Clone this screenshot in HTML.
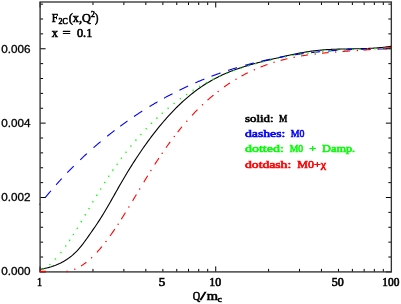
<!DOCTYPE html>
<html><head><meta charset="utf-8"><style>
html,body{margin:0;padding:0;background:#fff;}
body{width:401px;height:304px;overflow:hidden;position:relative;font-family:"Liberation Sans",sans-serif;}
svg{position:absolute;left:0;top:0;display:block;will-change:transform;}
</style></head><body>
<svg width="401" height="304" viewBox="0 0 401 304">
<path d="M39.60,269.53 L40.78,269.29 L41.95,269.04 L43.13,268.79 L44.31,268.52 L45.48,268.25 L46.66,267.96 L47.84,267.66 L49.02,267.35 L50.19,267.01 L51.37,266.66 L52.55,266.28 L53.72,265.89 L54.90,265.47 L56.08,265.02 L57.25,264.54 L58.43,264.04 L59.61,263.51 L60.78,262.94 L61.96,262.33 L63.14,261.69 L64.32,261.02 L65.49,260.30 L66.67,259.54 L67.85,258.74 L69.02,257.89 L70.20,257.00 L71.38,256.06 L72.55,255.07 L73.73,254.02 L74.91,252.92 L76.08,251.77 L77.26,250.56 L78.44,249.29 L79.62,247.97 L80.79,246.58 L81.97,245.12 L83.15,243.61 L84.32,242.04 L85.50,240.42 L86.68,238.78 L87.85,237.11 L89.03,235.43 L90.21,233.74 L91.38,232.05 L92.56,230.36 L93.74,228.66 L94.92,226.94 L96.09,225.21 L97.27,223.45 L98.45,221.67 L99.62,219.86 L100.80,218.02 L101.98,216.14 L103.15,214.23 L104.33,212.28 L105.51,210.31 L106.68,208.30 L107.86,206.28 L109.04,204.24 L110.22,202.18 L111.39,200.11 L112.57,198.03 L113.75,195.95 L114.92,193.86 L116.10,191.77 L117.28,189.69 L118.45,187.61 L119.63,185.55 L120.81,183.50 L121.98,181.46 L123.16,179.45 L124.34,177.45 L125.52,175.48 L126.69,173.52 L127.87,171.58 L129.05,169.66 L130.22,167.75 L131.40,165.87 L132.58,164.00 L133.75,162.16 L134.93,160.33 L136.11,158.52 L137.28,156.73 L138.46,154.96 L139.64,153.20 L140.82,151.47 L141.99,149.75 L143.17,148.05 L144.35,146.37 L145.52,144.71 L146.70,143.07 L147.88,141.44 L149.05,139.83 L150.23,138.25 L151.41,136.68 L152.58,135.13 L153.76,133.59 L154.94,132.08 L156.12,130.58 L157.29,129.10 L158.47,127.64 L159.65,126.20 L160.82,124.78 L162.00,123.37 L163.18,121.99 L164.35,120.62 L165.53,119.27 L166.71,117.93 L167.88,116.62 L169.06,115.32 L170.24,114.05 L171.42,112.79 L172.59,111.55 L173.77,110.32 L174.95,109.12 L176.12,107.93 L177.30,106.76 L178.48,105.61 L179.65,104.48 L180.83,103.36 L182.01,102.26 L183.18,101.18 L184.36,100.12 L185.54,99.08 L186.72,98.05 L187.89,97.05 L189.07,96.06 L190.25,95.09 L191.42,94.13 L192.60,93.20 L193.78,92.28 L194.95,91.38 L196.13,90.50 L197.31,89.63 L198.48,88.78 L199.66,87.95 L200.84,87.14 L202.02,86.35 L203.19,85.57 L204.37,84.80 L205.55,84.06 L206.72,83.32 L207.90,82.61 L209.08,81.91 L210.25,81.22 L211.43,80.55 L212.61,79.89 L213.78,79.25 L214.96,78.62 L216.14,78.00 L217.32,77.40 L218.49,76.81 L219.67,76.24 L220.85,75.67 L222.02,75.12 L223.20,74.58 L224.38,74.05 L225.55,73.53 L226.73,73.03 L227.91,72.53 L229.08,72.05 L230.26,71.57 L231.44,71.11 L232.62,70.65 L233.79,70.21 L234.97,69.77 L236.15,69.35 L237.32,68.93 L238.50,68.52 L239.68,68.12 L240.85,67.72 L242.03,67.34 L243.21,66.96 L244.38,66.59 L245.56,66.22 L246.74,65.87 L247.92,65.51 L249.09,65.17 L250.27,64.83 L251.45,64.49 L252.62,64.16 L253.80,63.84 L254.98,63.52 L256.15,63.20 L257.33,62.89 L258.51,62.58 L259.68,62.28 L260.86,61.98 L262.04,61.68 L263.22,61.39 L264.39,61.09 L265.57,60.80 L266.75,60.52 L267.92,60.23 L269.10,59.94 L270.28,59.66 L271.45,59.38 L272.63,59.09 L273.81,58.81 L274.98,58.53 L276.16,58.25 L277.34,57.97 L278.52,57.69 L279.69,57.42 L280.87,57.14 L282.05,56.87 L283.22,56.59 L284.40,56.32 L285.58,56.06 L286.75,55.79 L287.93,55.53 L289.11,55.27 L290.28,55.02 L291.46,54.76 L292.64,54.51 L293.82,54.27 L294.99,54.03 L296.17,53.79 L297.35,53.56 L298.52,53.33 L299.70,53.10 L300.88,52.88 L302.05,52.67 L303.23,52.46 L304.41,52.26 L305.58,52.06 L306.76,51.87 L307.94,51.68 L309.12,51.50 L310.29,51.32 L311.47,51.16 L312.65,51.00 L313.82,50.84 L315.00,50.70 L316.18,50.56 L317.35,50.43 L318.53,50.30 L319.71,50.19 L320.88,50.08 L322.06,49.97 L323.24,49.88 L324.42,49.79 L325.59,49.71 L326.77,49.63 L327.95,49.56 L329.12,49.49 L330.30,49.43 L331.48,49.37 L332.65,49.32 L333.83,49.27 L335.01,49.23 L336.18,49.19 L337.36,49.15 L338.54,49.11 L339.72,49.08 L340.89,49.05 L342.07,49.03 L343.25,49.00 L344.42,48.98 L345.60,48.96 L346.78,48.93 L347.95,48.91 L349.13,48.89 L350.31,48.87 L351.48,48.86 L352.66,48.84 L353.84,48.82 L355.02,48.79 L356.19,48.77 L357.37,48.75 L358.55,48.72 L359.72,48.70 L360.90,48.67 L362.08,48.63 L363.25,48.60 L364.43,48.56 L365.61,48.52 L366.78,48.48 L367.96,48.43 L369.14,48.38 L370.32,48.32 L371.49,48.26 L372.67,48.19 L373.85,48.12 L375.02,48.04 L376.20,47.96 L377.38,47.87 L378.55,47.77 L379.73,47.67 L380.91,47.56 L382.08,47.44 L383.26,47.32 L384.44,47.19 L385.62,47.05 L386.79,46.90 L387.97,46.74 L389.15,46.57 L390.32,46.40 L391.50,46.21" stroke="#000" stroke-width="1.1" fill="none"/>
<path d="M39.50,204.68 L40.20,203.79 M45.25,197.53 L45.76,196.91 L46.28,196.28 L46.79,195.66 L47.30,195.05 L47.82,194.43 L48.33,193.82 L48.85,193.21 L49.36,192.60 L49.87,191.99 L50.39,191.39 L50.90,190.79 M56.10,184.82 L56.61,184.24 L57.13,183.66 L57.64,183.09 L58.15,182.52 L58.67,181.95 L59.18,181.38 L59.70,180.81 L60.21,180.25 L60.72,179.69 L61.24,179.13 L61.75,178.57 M67.25,172.73 L67.75,172.21 L68.25,171.69 L68.75,171.17 L69.25,170.66 L69.75,170.14 L70.25,169.63 L70.75,169.12 L71.25,168.62 L71.75,168.11 L72.25,167.61 L72.75,167.10 L73.25,166.60 L73.75,166.10 M80.25,159.77 L80.76,159.28 L81.27,158.80 L81.78,158.32 L82.30,157.83 L82.81,157.35 L83.32,156.88 L83.83,156.40 L84.34,155.93 L84.85,155.45 L85.37,154.98 L85.88,154.51 L86.39,154.04 L86.90,153.58 M93.50,147.69 L94.01,147.25 L94.51,146.81 L95.02,146.37 L95.53,145.94 L96.04,145.50 L96.54,145.07 L97.05,144.63 L97.56,144.20 L98.06,143.77 L98.57,143.34 L99.08,142.92 L99.59,142.49 L100.09,142.07 L100.60,141.64 M107.25,136.22 L107.78,135.80 L108.30,135.38 L108.83,134.96 L109.35,134.55 L109.88,134.14 L110.40,133.72 L110.92,133.31 L111.45,132.90 L111.97,132.49 L112.50,132.09 L113.02,131.68 L113.55,131.28 L114.07,130.87 L114.60,130.47 M120.25,126.23 L120.77,125.85 L121.29,125.47 L121.80,125.09 L122.32,124.71 L122.84,124.33 L123.36,123.96 L123.88,123.59 L124.39,123.21 L124.91,122.84 L125.43,122.47 L125.95,122.10 L126.46,121.73 L126.98,121.37 L127.50,121.00 M134.00,116.52 L134.52,116.17 L135.04,115.82 L135.56,115.47 L136.07,115.13 L136.59,114.78 L137.11,114.44 L137.63,114.10 L138.15,113.75 L138.67,113.41 L139.19,113.07 L139.71,112.74 L140.23,112.40 L140.74,112.06 L141.26,111.73 L141.78,111.40 L142.30,111.06 M149.50,106.57 L150.00,106.27 L150.50,105.97 L151.00,105.67 L151.50,105.37 L152.00,105.07 L152.50,104.77 L153.00,104.47 L153.50,104.17 L154.00,103.88 L154.50,103.58 L155.00,103.29 L155.50,103.00 L156.00,102.71 L156.50,102.42 L157.00,102.13 L157.50,101.84 M164.00,98.18 L164.50,97.91 L165.00,97.63 L165.50,97.36 L166.00,97.09 L166.50,96.82 L167.00,96.55 L167.50,96.28 L168.00,96.02 L168.50,95.75 L169.00,95.48 L169.50,95.22 L170.00,94.96 L170.50,94.69 L171.00,94.43 L171.50,94.17 L172.00,93.91 L172.50,93.65 M179.40,90.18 L179.91,89.93 L180.42,89.68 L180.94,89.43 L181.45,89.18 L181.96,88.94 L182.47,88.69 L182.98,88.45 L183.49,88.20 L184.01,87.96 L184.52,87.72 L185.03,87.48 L185.54,87.24 L186.05,87.00 L186.56,86.76 L187.08,86.52 L187.59,86.28 L188.10,86.05 M195.25,82.86 L195.76,82.64 L196.27,82.42 L196.78,82.20 L197.28,81.98 L197.79,81.77 L198.30,81.55 L198.81,81.34 L199.32,81.12 L199.82,80.91 L200.33,80.70 L200.84,80.49 L201.35,80.28 L201.86,80.07 L202.37,79.86 L202.88,79.65 L203.38,79.44 L203.89,79.24 L204.40,79.03 M211.50,76.26 L212.01,76.07 L212.51,75.88 L213.02,75.69 L213.52,75.50 L214.03,75.31 L214.53,75.12 L215.04,74.94 L215.54,74.75 L216.05,74.57 L216.56,74.38 L217.06,74.20 L217.57,74.02 L218.07,73.84 L218.58,73.66 L219.08,73.48 L219.59,73.30 L220.09,73.12 L220.60,72.94 M228.10,70.40 L228.62,70.24 L229.14,70.07 L229.65,69.90 L230.17,69.73 L230.69,69.57 L231.21,69.40 L231.72,69.24 L232.24,69.08 L232.76,68.92 L233.28,68.75 L233.79,68.59 L234.31,68.43 L234.83,68.27 L235.35,68.12 L235.86,67.96 L236.38,67.80 L236.90,67.65 M245.25,65.24 L245.75,65.10 L246.25,64.97 L246.75,64.83 L247.25,64.69 L247.75,64.56 L248.25,64.43 L248.75,64.29 L249.25,64.16 L249.75,64.03 L250.25,63.90 L250.75,63.77 L251.25,63.64 L251.75,63.51 L252.25,63.38 L252.75,63.25 L253.25,63.12 L253.75,63.00 M261.25,61.18 L261.77,61.06 L262.29,60.94 L262.81,60.82 L263.33,60.70 L263.85,60.59 L264.37,60.47 L264.89,60.35 L265.41,60.24 L265.93,60.12 L266.44,60.01 L266.96,59.90 L267.48,59.78 L268.00,59.67 L268.52,59.56 L269.04,59.45 L269.56,59.34 L270.08,59.23 L270.60,59.12 M278.10,57.64 L278.62,57.54 L279.15,57.44 L279.67,57.34 L280.19,57.25 L280.72,57.15 L281.24,57.06 L281.76,56.96 L282.29,56.87 L282.81,56.77 L283.34,56.68 L283.86,56.59 L284.38,56.50 L284.91,56.41 L285.43,56.32 L285.95,56.23 L286.48,56.14 L287.00,56.05 M294.60,54.84 L295.10,54.77 L295.60,54.69 L296.10,54.62 L296.60,54.55 L297.10,54.47 L297.60,54.40 L298.10,54.33 L298.60,54.26 L299.10,54.19 L299.60,54.12 L300.10,54.05 L300.60,53.98 L301.10,53.91 L301.60,53.84 L302.10,53.78 L302.60,53.71 L303.10,53.64 L303.60,53.58 M311.20,52.65 L311.70,52.59 L312.20,52.53 L312.70,52.48 L313.20,52.42 L313.70,52.37 L314.20,52.31 L314.70,52.26 L315.20,52.20 L315.70,52.15 L316.20,52.10 L316.70,52.05 L317.20,51.99 L317.70,51.94 L318.20,51.89 L318.70,51.84 L319.20,51.79 L319.70,51.74 L320.20,51.70 M327.80,51.02 L328.30,50.97 L328.80,50.93 L329.30,50.89 L329.80,50.85 L330.30,50.81 L330.80,50.78 L331.30,50.74 L331.80,50.70 L332.30,50.66 L332.80,50.63 L333.30,50.59 L333.80,50.55 L334.30,50.52 L334.80,50.48 L335.30,50.45 L335.80,50.41 L336.30,50.38 L336.80,50.35 M344.40,49.89 L344.90,49.87 L345.40,49.84 L345.90,49.81 L346.40,49.79 L346.90,49.76 L347.40,49.74 L347.90,49.71 L348.40,49.69 L348.90,49.67 L349.40,49.64 L349.90,49.62 L350.40,49.60 L350.90,49.58 L351.40,49.56 L351.90,49.54 L352.40,49.52 L352.90,49.50 L353.40,49.48 M361.00,49.22 L361.50,49.21 L362.00,49.19 L362.50,49.18 L363.00,49.17 L363.50,49.16 L364.00,49.14 L364.50,49.13 L365.00,49.12 L365.50,49.11 L366.00,49.10 L366.50,49.09 L367.00,49.08 L367.50,49.07 L368.00,49.06 L368.50,49.05 L369.00,49.04 L369.50,49.03 L370.00,49.03 M377.60,48.95 L378.10,48.94 L378.60,48.94 L379.10,48.94 L379.60,48.94 L380.10,48.94 L380.60,48.93 L381.10,48.93 L381.60,48.93 L382.10,48.93 L382.60,48.93 L383.10,48.93 L383.60,48.93 L384.10,48.93 L384.60,48.94 L385.10,48.94 L385.60,48.94 L386.10,48.94 L386.60,48.94" stroke="#00f" stroke-width="1.1" fill="none"/>
<circle cx="43.60" cy="269.11" r="0.8" fill="#0f0"/><circle cx="49.90" cy="264.53" r="0.8" fill="#0f0"/><circle cx="55.50" cy="259.01" r="0.8" fill="#0f0"/><circle cx="60.90" cy="252.56" r="0.8" fill="#0f0"/><circle cx="65.75" cy="246.00" r="0.8" fill="#0f0"/><circle cx="69.60" cy="240.36" r="0.8" fill="#0f0"/><circle cx="73.40" cy="234.48" r="0.8" fill="#0f0"/><circle cx="77.25" cy="228.27" r="0.8" fill="#0f0"/><circle cx="81.25" cy="221.63" r="0.8" fill="#0f0"/><circle cx="85.25" cy="214.86" r="0.8" fill="#0f0"/><circle cx="89.00" cy="208.46" r="0.8" fill="#0f0"/><circle cx="92.90" cy="201.83" r="0.8" fill="#0f0"/><circle cx="96.75" cy="195.35" r="0.8" fill="#0f0"/><circle cx="100.60" cy="189.03" r="0.8" fill="#0f0"/><circle cx="104.75" cy="182.43" r="0.8" fill="#0f0"/><circle cx="108.75" cy="176.29" r="0.8" fill="#0f0"/><circle cx="112.90" cy="170.16" r="0.8" fill="#0f0"/><circle cx="117.10" cy="164.18" r="0.8" fill="#0f0"/><circle cx="121.40" cy="158.30" r="0.8" fill="#0f0"/><circle cx="126.00" cy="152.26" r="0.8" fill="#0f0"/><circle cx="130.90" cy="146.12" r="0.8" fill="#0f0"/><circle cx="135.90" cy="140.15" r="0.8" fill="#0f0"/><circle cx="140.90" cy="134.47" r="0.8" fill="#0f0"/><circle cx="146.25" cy="128.71" r="0.8" fill="#0f0"/><circle cx="151.50" cy="123.35" r="0.8" fill="#0f0"/><circle cx="156.90" cy="118.14" r="0.8" fill="#0f0"/><circle cx="162.25" cy="113.27" r="0.8" fill="#0f0"/><circle cx="168.10" cy="108.26" r="0.8" fill="#0f0"/><circle cx="174.10" cy="103.45" r="0.8" fill="#0f0"/><circle cx="180.40" cy="98.75" r="0.8" fill="#0f0"/><circle cx="186.60" cy="94.45" r="0.8" fill="#0f0"/><circle cx="193.10" cy="90.27" r="0.8" fill="#0f0"/><circle cx="199.70" cy="86.36" r="0.8" fill="#0f0"/><circle cx="206.50" cy="82.65" r="0.8" fill="#0f0"/><circle cx="213.10" cy="79.34" r="0.8" fill="#0f0"/><circle cx="220.00" cy="76.18" r="0.8" fill="#0f0"/><circle cx="227.10" cy="73.21" r="0.8" fill="#0f0"/><circle cx="234.00" cy="70.58" r="0.8" fill="#0f0"/><circle cx="240.90" cy="68.19" r="0.8" fill="#0f0"/><circle cx="248.35" cy="65.83" r="0.8" fill="#0f0"/><circle cx="255.80" cy="63.69" r="0.8" fill="#0f0"/><circle cx="263.25" cy="61.73" r="0.8" fill="#0f0"/><circle cx="270.70" cy="59.94" r="0.8" fill="#0f0"/><circle cx="278.15" cy="58.31" r="0.8" fill="#0f0"/><circle cx="285.60" cy="56.84" r="0.8" fill="#0f0"/><circle cx="293.05" cy="55.52" r="0.8" fill="#0f0"/><circle cx="300.50" cy="54.34" r="0.8" fill="#0f0"/><circle cx="307.95" cy="53.29" r="0.8" fill="#0f0"/><circle cx="315.40" cy="52.37" r="0.8" fill="#0f0"/><circle cx="322.85" cy="51.57" r="0.8" fill="#0f0"/><circle cx="330.30" cy="50.89" r="0.8" fill="#0f0"/><circle cx="337.75" cy="50.32" r="0.8" fill="#0f0"/><circle cx="345.20" cy="49.85" r="0.8" fill="#0f0"/><circle cx="352.65" cy="49.47" r="0.8" fill="#0f0"/><circle cx="360.10" cy="49.19" r="0.8" fill="#0f0"/><circle cx="367.55" cy="48.98" r="0.8" fill="#0f0"/><circle cx="375.00" cy="48.85" r="0.8" fill="#0f0"/><circle cx="382.45" cy="48.80" r="0.8" fill="#0f0"/><circle cx="389.90" cy="48.80" r="0.8" fill="#0f0"/>
<path d="M80.90,266.06 L81.44,265.73 L81.98,265.38 L82.52,265.03 L83.06,264.66 L83.60,264.29 L84.14,263.91 L84.68,263.52 L85.22,263.12 L85.76,262.71 L86.30,262.29 M96.90,252.36 L97.41,251.80 L97.92,251.24 L98.43,250.66 L98.94,250.09 L99.45,249.50 L99.96,248.91 L100.47,248.31 L100.98,247.71 L101.49,247.10 L102.00,246.48 M110.00,236.01 L110.54,235.25 L111.09,234.48 L111.63,233.71 L112.18,232.93 L112.72,232.15 L113.27,231.36 L113.81,230.57 L114.36,229.77 L114.90,228.96 M121.30,219.19 L121.81,218.38 L122.33,217.57 L122.84,216.76 L123.35,215.94 L123.86,215.13 L124.38,214.31 L124.89,213.48 L125.40,212.66 M132.60,200.85 L133.14,199.94 L133.69,199.04 L134.23,198.14 L134.77,197.23 L135.31,196.33 L135.86,195.42 L136.40,194.51 M143.80,182.17 L144.36,181.25 L144.91,180.33 L145.47,179.41 L146.03,178.49 L146.59,177.57 L147.14,176.66 L147.70,175.75 M154.70,164.54 L155.22,163.72 L155.75,162.91 L156.28,162.10 L156.80,161.29 L157.32,160.48 L157.85,159.68 L158.38,158.89 L158.90,158.09 M166.00,147.72 L166.53,146.97 L167.05,146.24 L167.57,145.50 L168.10,144.77 L168.62,144.05 L169.15,143.32 L169.67,142.60 L170.20,141.89 M177.60,132.19 L178.15,131.49 L178.70,130.81 L179.25,130.12 L179.80,129.44 L180.35,128.77 L180.90,128.09 L181.45,127.43 L182.00,126.76 M192.00,115.39 L192.50,114.85 L193.00,114.32 L193.50,113.79 L194.00,113.26 L194.50,112.74 L195.00,112.22 L195.50,111.70 L196.00,111.19 L196.50,110.68 L197.00,110.17 L197.50,109.67 M207.50,100.20 L208.00,99.76 L208.50,99.32 L209.00,98.88 L209.50,98.44 L210.00,98.01 L210.50,97.58 L211.00,97.16 L211.50,96.73 L212.00,96.31 L212.50,95.90 L213.00,95.48 L213.50,95.07 M224.00,87.02 L224.50,86.66 L225.00,86.31 L225.50,85.96 L226.00,85.61 L226.50,85.27 L227.00,84.93 L227.50,84.59 L228.00,84.25 L228.50,83.91 L229.00,83.58 L229.50,83.25 L230.00,82.92 M241.50,76.02 L242.03,75.73 L242.55,75.45 L243.07,75.17 L243.60,74.89 L244.12,74.61 L244.65,74.33 L245.18,74.06 L245.70,73.79 L246.23,73.52 L246.75,73.26 L247.28,72.99 L247.80,72.73 M260.60,67.03 L261.13,66.82 L261.66,66.62 L262.19,66.41 L262.72,66.21 L263.25,66.00 L263.78,65.80 L264.32,65.61 L264.85,65.41 L265.38,65.22 L265.91,65.02 L266.44,64.83 L266.97,64.65 L267.50,64.46 M280.60,60.43 L281.13,60.28 L281.66,60.14 L282.19,60.00 L282.72,59.87 L283.25,59.73 L283.78,59.60 L284.32,59.46 L284.85,59.33 L285.38,59.20 L285.91,59.08 L286.44,58.95 L286.97,58.82 L287.50,58.70 M301.00,56.00 L301.50,55.92 L302.00,55.83 L302.50,55.75 L303.00,55.67 L303.50,55.59 L304.00,55.51 L304.50,55.43 L305.00,55.35 L305.50,55.27 L306.00,55.20 L306.50,55.12 L307.00,55.05 L307.50,54.98 L308.00,54.90 M322.00,53.19 L322.51,53.14 L323.02,53.09 L323.52,53.04 L324.03,52.99 L324.54,52.94 L325.05,52.89 L325.55,52.84 L326.06,52.80 L326.57,52.75 L327.08,52.70 L327.58,52.66 L328.09,52.61 L328.60,52.57 M342.50,51.48 L343.00,51.45 L343.50,51.41 L344.00,51.38 L344.50,51.34 L345.00,51.31 L345.50,51.27 L346.00,51.24 L346.50,51.21 L347.00,51.17 L347.50,51.14 L348.00,51.11 L348.50,51.07 L349.00,51.04 L349.50,51.01 L350.00,50.97 M363.40,50.08 L363.90,50.04 L364.40,50.00 L364.90,49.97 L365.40,49.93 L365.90,49.90 L366.40,49.86 L366.90,49.82 L367.40,49.79 L367.90,49.75 L368.40,49.71 L368.90,49.67 L369.40,49.64 L369.90,49.60 L370.40,49.56 L370.90,49.52 M383.00,48.44 L383.50,48.39 L384.00,48.34 L384.50,48.29 L385.00,48.23 L385.50,48.18 L386.00,48.13 L386.50,48.07 L387.00,48.02 L387.50,47.96 L388.00,47.90 L388.50,47.84 L389.00,47.79 L389.50,47.73 L390.00,47.67 L390.50,47.61 L391.00,47.55" stroke="#f00" stroke-width="1.1" fill="none"/>
<circle cx="74.80" cy="269.17" r="0.75" fill="#f00"/><circle cx="91.60" cy="257.73" r="0.75" fill="#f00"/><circle cx="106.00" cy="241.42" r="0.75" fill="#f00"/><circle cx="118.10" cy="224.15" r="0.75" fill="#f00"/><circle cx="128.90" cy="206.96" r="0.75" fill="#f00"/><circle cx="139.70" cy="189.00" r="0.75" fill="#f00"/><circle cx="150.90" cy="170.56" r="0.75" fill="#f00"/><circle cx="162.20" cy="153.19" r="0.75" fill="#f00"/><circle cx="174.30" cy="136.42" r="0.75" fill="#f00"/><circle cx="186.80" cy="121.14" r="0.75" fill="#f00"/><circle cx="202.50" cy="104.79" r="0.75" fill="#f00"/><circle cx="218.10" cy="91.40" r="0.75" fill="#f00"/><circle cx="236.00" cy="79.17" r="0.75" fill="#f00"/><circle cx="254.40" cy="69.64" r="0.75" fill="#f00"/><circle cx="274.00" cy="62.33" r="0.75" fill="#f00"/><circle cx="294.20" cy="57.26" r="0.75" fill="#f00"/><circle cx="315.20" cy="53.95" r="0.75" fill="#f00"/><circle cx="335.70" cy="51.98" r="0.75" fill="#f00"/><circle cx="357.40" cy="50.48" r="0.75" fill="#f00"/><circle cx="378.40" cy="48.88" r="0.75" fill="#f00"/>
<path d="M40.10,271.9 v-5.5 M40.10,2.0 v5.5 M92.97,271.9 v-3 M92.97,2.0 v3 M123.89,271.9 v-3 M123.89,2.0 v3 M145.84,271.9 v-3 M145.84,2.0 v3 M162.86,271.9 v-3 M162.86,2.0 v3 M176.76,271.9 v-3 M176.76,2.0 v3 M188.52,271.9 v-3 M188.52,2.0 v3 M198.71,271.9 v-3 M198.71,2.0 v3 M207.69,271.9 v-3 M207.69,2.0 v3 M215.72,271.9 v-5.5 M215.72,2.0 v5.5 M268.59,271.9 v-3 M268.59,2.0 v3 M299.52,271.9 v-3 M299.52,2.0 v3 M321.46,271.9 v-3 M321.46,2.0 v3 M338.48,271.9 v-3 M338.48,2.0 v3 M352.39,271.9 v-3 M352.39,2.0 v3 M364.15,271.9 v-3 M364.15,2.0 v3 M374.33,271.9 v-3 M374.33,2.0 v3 M383.31,271.9 v-3 M383.31,2.0 v3 M40.1,271.90 h5.5 M391.35,271.90 h-5.5 M40.1,257.02 h3 M391.35,257.02 h-3 M40.1,242.15 h3 M391.35,242.15 h-3 M40.1,227.27 h3 M391.35,227.27 h-3 M40.1,212.39 h3 M391.35,212.39 h-3 M40.1,197.52 h5.5 M391.35,197.52 h-5.5 M40.1,182.64 h3 M391.35,182.64 h-3 M40.1,167.76 h3 M391.35,167.76 h-3 M40.1,152.89 h3 M391.35,152.89 h-3 M40.1,138.01 h3 M391.35,138.01 h-3 M40.1,123.13 h5.5 M391.35,123.13 h-5.5 M40.1,108.26 h3 M391.35,108.26 h-3 M40.1,93.38 h3 M391.35,93.38 h-3 M40.1,78.50 h3 M391.35,78.50 h-3 M40.1,63.63 h3 M391.35,63.63 h-3 M40.1,48.75 h5.5 M391.35,48.75 h-5.5 M40.1,33.87 h3 M391.35,33.87 h-3 M40.1,19.00 h3 M391.35,19.00 h-3 M40.1,4.12 h3 M391.35,4.12 h-3" stroke="#000" stroke-width="1" fill="none"/>
<rect x="40.1" y="2.0" width="351.25" height="269.9" fill="none" stroke="#333" stroke-width="1.35"/>
<path d="M39.4,271.6 H46.1 M66.5,271.6 h1.3" stroke="#f00" stroke-width="1.5" fill="none"/>
<g opacity="0.999"><text x="51.7" y="21.7" font-family='"Liberation Serif",serif' font-size="11.5" font-weight="normal" fill="#000" stroke="#000" stroke-width="0.62" textLength="6.20" lengthAdjust="spacingAndGlyphs">F</text>
<text x="58.6" y="24.4" font-family='"Liberation Serif",serif' font-size="7.8" font-weight="normal" fill="#000" stroke="#000" stroke-width="0.62" textLength="9.20" lengthAdjust="spacingAndGlyphs">2C</text>
<text x="68.7" y="21.7" font-family='"Liberation Serif",serif' font-size="11.5" font-weight="normal" fill="#000" stroke="#000" stroke-width="0.62" textLength="22.10" lengthAdjust="spacingAndGlyphs">(x,Q</text>
<text x="90.9" y="16.9" font-family='"Liberation Serif",serif' font-size="7.2" font-weight="normal" fill="#000" stroke="#000" stroke-width="0.62" textLength="3.90" lengthAdjust="spacingAndGlyphs">2</text>
<text x="94.9" y="21.7" font-family='"Liberation Serif",serif' font-size="11.5" font-weight="normal" fill="#000" stroke="#000" stroke-width="0.62" textLength="3.40" lengthAdjust="spacingAndGlyphs">)</text>
<text x="51.7" y="36.7" font-family='"Liberation Serif",serif' font-size="11.5" font-weight="normal" fill="#000" stroke="#000" stroke-width="0.62" textLength="6.20" lengthAdjust="spacingAndGlyphs">x</text>
<text x="62.5" y="36.7" font-family='"Liberation Serif",serif' font-size="11.5" font-weight="normal" fill="#000" stroke="#000" stroke-width="0.62" textLength="8.10" lengthAdjust="spacingAndGlyphs">=</text>
<text x="77.0" y="36.7" font-family='"Liberation Serif",serif' font-size="11.5" font-weight="normal" fill="#000" stroke="#000" stroke-width="0.62" textLength="15.30" lengthAdjust="spacingAndGlyphs">0.1</text>
<text x="245.0" y="121.8" font-family='"Liberation Serif",serif' font-size="10.8" font-weight="normal" fill="#000" stroke="#000" stroke-width="0.62" textLength="28.60" lengthAdjust="spacingAndGlyphs">solid:</text>
<text x="279.0" y="121.8" font-family='"Liberation Serif",serif' font-size="10.8" font-weight="normal" fill="#000" stroke="#000" stroke-width="0.62" textLength="8.30" lengthAdjust="spacingAndGlyphs">M</text>
<text x="245.0" y="136.9" font-family='"Liberation Serif",serif' font-size="10.8" font-weight="normal" fill="#00f" stroke="#00f" stroke-width="0.62" textLength="40.30" lengthAdjust="spacingAndGlyphs">dashes:</text>
<text x="290.8" y="136.9" font-family='"Liberation Serif",serif' font-size="10.8" font-weight="normal" fill="#00f" stroke="#00f" stroke-width="0.62" textLength="13.70" lengthAdjust="spacingAndGlyphs">M0</text>
<text x="245.0" y="152.4" font-family='"Liberation Serif",serif' font-size="10.8" font-weight="normal" fill="#0f0" stroke="#0f0" stroke-width="0.62" textLength="38.80" lengthAdjust="spacingAndGlyphs">dotted:</text>
<text x="289.8" y="152.4" font-family='"Liberation Serif",serif' font-size="10.8" font-weight="normal" fill="#0f0" stroke="#0f0" stroke-width="0.62" textLength="13.40" lengthAdjust="spacingAndGlyphs">M0</text>
<text x="309.3" y="152.4" font-family='"Liberation Serif",serif' font-size="10.8" font-weight="normal" fill="#0f0" stroke="#0f0" stroke-width="0.62" textLength="6.90" lengthAdjust="spacingAndGlyphs">+</text>
<text x="322.1" y="152.4" font-family='"Liberation Serif",serif' font-size="10.8" font-weight="normal" fill="#0f0" stroke="#0f0" stroke-width="0.62" textLength="33.10" lengthAdjust="spacingAndGlyphs">Damp.</text>
<text x="245.0" y="167.6" font-family='"Liberation Serif",serif' font-size="10.8" font-weight="normal" fill="#f00" stroke="#f00" stroke-width="0.62" textLength="46.20" lengthAdjust="spacingAndGlyphs">dotdash:</text>
<text x="297.3" y="167.6" font-family='"Liberation Serif",serif' font-size="10.8" font-weight="normal" fill="#f00" stroke="#f00" stroke-width="0.62" textLength="28.80" lengthAdjust="spacingAndGlyphs">M0+&#967;</text>
<text x="36.9" y="286" font-family='"Liberation Serif",serif' font-size="11.5" font-weight="normal" fill="#000" stroke="#000" stroke-width="0.62" textLength="5.10" lengthAdjust="spacingAndGlyphs">1</text>
<text x="158.8" y="285.7" font-family='"Liberation Serif",serif' font-size="11.5" font-weight="normal" fill="#000" stroke="#000" stroke-width="0.62" textLength="6.50" lengthAdjust="spacingAndGlyphs">5</text>
<text x="209.2" y="285.7" font-family='"Liberation Serif",serif' font-size="11.5" font-weight="normal" fill="#000" stroke="#000" stroke-width="0.62" textLength="11.90" lengthAdjust="spacingAndGlyphs">10</text>
<text x="331.8" y="285.9" font-family='"Liberation Serif",serif' font-size="11.5" font-weight="normal" fill="#000" stroke="#000" stroke-width="0.62" textLength="12.00" lengthAdjust="spacingAndGlyphs">50</text>
<text x="382.3" y="285.9" font-family='"Liberation Serif",serif' font-size="11.5" font-weight="normal" fill="#000" stroke="#000" stroke-width="0.62" textLength="17.00" lengthAdjust="spacingAndGlyphs">100</text>
<text x="192.7" y="299.9" font-family='"Liberation Serif",serif' font-size="12" font-weight="normal" fill="#000" stroke="#000" stroke-width="0.62" textLength="7.40" lengthAdjust="spacingAndGlyphs">Q</text>
<text x="200" y="299.9" font-family='"Liberation Serif",serif' font-size="12" font-weight="normal" fill="#000" stroke="#000" stroke-width="0.62" textLength="5.90" lengthAdjust="spacingAndGlyphs">/</text>
<text x="206.7" y="299.9" font-family='"Liberation Serif",serif' font-size="12" font-weight="normal" fill="#000" stroke="#000" stroke-width="0.62" textLength="11.30" lengthAdjust="spacingAndGlyphs">m</text>
<text x="217.8" y="302" font-family='"Liberation Serif",serif' font-size="8" font-weight="normal" fill="#000" stroke="#000" stroke-width="0.62" textLength="4.00" lengthAdjust="spacingAndGlyphs">c</text>
<text x="1.2" y="52.9" font-family='"Liberation Sans",sans-serif' font-size="10.5" font-weight="normal" fill="#000" stroke="#000" stroke-width="0.3" textLength="29.30" lengthAdjust="spacingAndGlyphs">0.006</text>
<text x="1.2" y="127.0" font-family='"Liberation Sans",sans-serif' font-size="10.5" font-weight="normal" fill="#000" stroke="#000" stroke-width="0.3" textLength="29.30" lengthAdjust="spacingAndGlyphs">0.004</text>
<text x="1.2" y="201.2" font-family='"Liberation Sans",sans-serif' font-size="10.5" font-weight="normal" fill="#000" stroke="#000" stroke-width="0.3" textLength="29.30" lengthAdjust="spacingAndGlyphs">0.002</text>
<text x="1.2" y="275.4" font-family='"Liberation Sans",sans-serif' font-size="10.5" font-weight="normal" fill="#000" stroke="#000" stroke-width="0.3" textLength="29.30" lengthAdjust="spacingAndGlyphs">0.000</text></g>
</svg>
</body></html>
